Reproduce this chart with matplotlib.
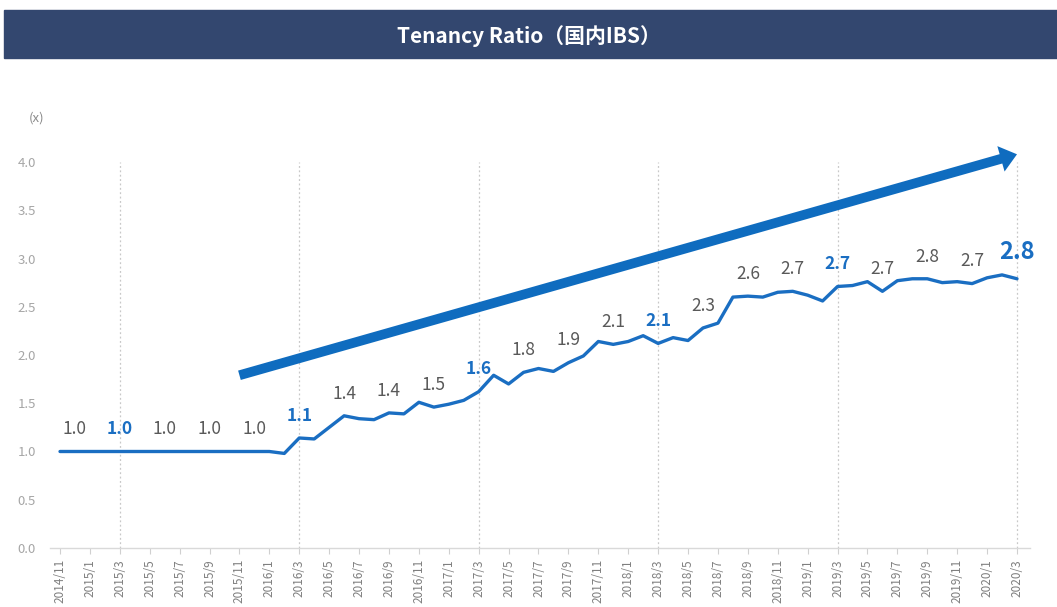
import matplotlib.pyplot as plt
from matplotlib.patches import Rectangle

# monthly tenancy ratio, 2014/11 .. 2020/3
ratio = [1.00, 1.00, 1.00, 1.00, 1.00, 1.00, 1.00, 1.00, 1.00, 1.00,
         1.00, 1.00, 1.00, 1.00, 1.00, 0.98, 1.14, 1.13, 1.25, 1.37,
         1.34, 1.33, 1.40, 1.39, 1.51, 1.46, 1.49, 1.53, 1.62, 1.79,
         1.70, 1.82, 1.86, 1.83, 1.92, 1.99, 2.14, 2.11, 2.14, 2.20,
         2.12, 2.18, 2.15, 2.28, 2.33, 2.60, 2.61, 2.60, 2.65, 2.66,
         2.62, 2.56, 2.71, 2.72, 2.76, 2.66, 2.77, 2.79, 2.79, 2.75,
         2.76, 2.74, 2.80, 2.83, 2.79]

tick_labels = ["2014/11", "2015/1", "2015/3", "2015/5", "2015/7", "2015/9",
               "2015/11", "2016/1", "2016/3", "2016/5", "2016/7", "2016/9",
               "2016/11", "2017/1", "2017/3", "2017/5", "2017/7", "2017/9",
               "2017/11", "2018/1", "2018/3", "2018/5", "2018/7", "2018/9",
               "2018/11", "2019/1", "2019/3", "2019/5", "2019/7", "2019/9",
               "2019/11", "2020/1", "2020/3"]

title = "Tenancy Ratio（国内IBS）"
label_months = list(range(1, len(ratio), 3))      # quarter ends, 2014/12 .. 2020/3
march_months = list(range(4, len(ratio), 12))     # fiscal year ends
trend_start = (12, 1.79)
trend_end = (64, 4.08)

BLUE = "#1a6ec2"
GRAY = "#595959"
FONT = ["Noto Sans CJK JP", "DejaVu Sans"]
plt.rcParams["font.family"] = FONT

fig = plt.figure(figsize=(10.57, 6.07), dpi=100)
fig.patches.append(Rectangle((4 / 1057, 1 - 58 / 607), 1, 48 / 607,
                             transform=fig.transFigure, color="#33476f"))
fig.text(0.5, 1 - 36 / 607, title, color="white", fontsize=15,
         fontweight="bold", ha="center", va="center")

ax = fig.add_axes([50 / 1057, 59 / 607, 980 / 1057, 386 / 607])
months = list(range(len(ratio)))

ax.vlines(march_months, 0, 4.0, colors="#c8c8c8", linestyles=(0, (1.5, 2)),
          linewidth=0.9, zorder=1)
ax.plot(months, ratio, color=BLUE, linewidth=2.4, solid_joinstyle="round",
        solid_capstyle="round", zorder=3)

for m in label_months:
    txt = f"{ratio[m]:.1f}"
    if m == len(ratio) - 1:
        ax.annotate(txt, (m, ratio[m]), xytext=(0, 19), textcoords="offset points",
                    ha="center", va="center", fontsize=17, fontweight="bold", color=BLUE)
    elif m in march_months:
        ax.annotate(txt, (m, ratio[m]), xytext=(0, 16), textcoords="offset points",
                    ha="center", va="center", fontsize=12.5, fontweight="bold", color=BLUE)
    else:
        ax.annotate(txt, (m, ratio[m]), xytext=(0, 16), textcoords="offset points",
                    ha="center", va="center", fontsize=12.5, color=GRAY)

ax.annotate("", xy=trend_end, xytext=trend_start,
            arrowprops=dict(width=7, headwidth=19, headlength=12, shrink=0,
                            color="#0f6cbf", linewidth=0),
            annotation_clip=False, zorder=4)

ax.set_xlim(-10 / 14.95, 64 + 13 / 14.95)
ax.set_ylim(0, 4.0)
ax.set_yticks([0, 0.5, 1.0, 1.5, 2.0, 2.5, 3.0, 3.5, 4.0])
ax.set_yticklabels([f"{v:.1f}" for v in ax.get_yticks()])
ax.set_xticks(range(0, len(ratio), 2))
ax.set_xticklabels(tick_labels, rotation=90)
ax.tick_params(axis="y", length=0, pad=10, labelsize=9.5, labelcolor="#a6a6a6")
ax.tick_params(axis="x", length=4, width=0.8, color="#d0d0d0", pad=4,
               labelsize=8.5, labelcolor="#7f7f7f")
for side in ["top", "right", "left"]:
    ax.spines[side].set_visible(False)
ax.spines["bottom"].set_color("#d9d9d9")
ax.spines["bottom"].set_linewidth(1.0)

fig.text(37 / 1057, 1 - 118 / 607, "(x)", color="#8c8c8c", fontsize=9.5,
         ha="center", va="center")

fig.savefig("out.png", dpi=100)
